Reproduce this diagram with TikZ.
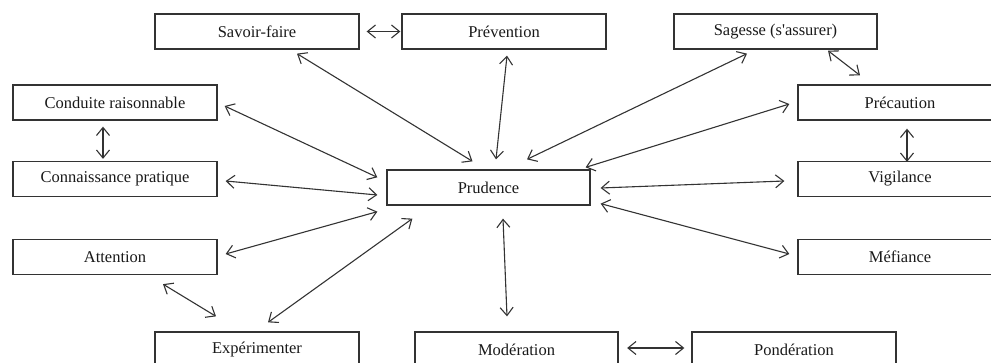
\documentclass[tikz,border=0pt]{standalone}
\usepackage{fontspec}
\setmainfont{Liberation Serif}
\newfontfamily\boxfont{Liberation Serif}
\usetikzlibrary{arrows.meta}

\begin{document}
\begin{tikzpicture}[x=1pt,y=-1pt,
		box/.style={draw=black!80, line width=1.3pt, minimum width=204pt, minimum height=35pt, inner sep=0pt, text=black!90, font=\boxfont\fontsize{16.5}{19}\selectfont},
		link/.style={draw=black!80, line width=1.1pt, {Straight Barb[length=8pt,width=13pt]}-{Straight Barb[length=8pt,width=13pt]}}]
		\useasboundingbox (0,0) rectangle (991,363);
		\clip (0,0) rectangle (991,363);
		% Draw boxes
		\node [box] (sf) at (257,31.5) {Savoir-faire};
		\node [box] (prev) at (504,31.5) {Prévention};
		\node [box, minimum width=203pt] (sag) at (775.5,31.5) {Sagesse (s\textquotesingle assurer)};
		\node [box] (cond) at (115,102.5) {Conduite raisonnable};
		\node [box] (conn) at (115,179) {Connaissance pratique};
		\node [box] (att) at (115,257) {Attention};
		\node [box, minimum width=203pt] (pru) at (488.5,187.5) {Prudence};
		\node [box] (prec) at (900,102.5) {Précaution};
		\node [box] (vig) at (900,179) {Vigilance};
		\node [box] (mef) at (900,257) {Méfiance};
		\node [box] (exp) at (257,349.5) {Expérimenter};
		\node [box, minimum width=203pt] (mod) at (516.5,349.5) {Modération};
		\node [box] (pon) at (794,349.5) {Pondération};
		% Draw links on top
		\draw [link] ([xshift=7pt]sf.east) -- ([xshift=-1pt]prev.west);
		\draw [link] ([xshift=40pt,yshift=-4pt]sf.south) -- ([xshift=-16pt,yshift=8pt]pru.north);
		\draw [link] ([xshift=3pt,yshift=-6pt]prev.south) -- ([xshift=7.5pt,yshift=10pt]pru.north);
		\draw [link] ([xshift=-28.5pt,yshift=-4pt]sag.south) -- ([xshift=38.5pt,yshift=10pt]pru.north);
		\draw [link] ([xshift=52.5pt,yshift=-1pt]sag.south) -- ([xshift=-40pt,yshift=9pt]prec.north);
		% Draw links on the right
		\draw [link] ([xshift=-8pt,yshift=-1.5pt]prec.west) -- ([xshift=-5pt,yshift=2pt]pru.north east);
		\draw [link] ([xshift=7pt,yshift=-8pt]prec.south) -- ([xshift=7pt,yshift=-1pt]vig.north);
		\draw [link] ([xshift=10pt,yshift=-0.5pt]pru.east) -- ([xshift=-13pt,yshift=-2pt]vig.west);
		\draw [link] ([xshift=10pt,yshift=2pt]pru.south east) -- ([xshift=-8pt,yshift=3pt]mef.west);
		% Draw links at the bottom
		\draw [link] ([xshift=14.5pt,yshift=-13pt]pru.south) -- ([xshift=-9.5pt,yshift=15pt]mod.north);
		\draw [link] ([xshift=8.5pt,yshift=1.5pt]mod.east) -- ([xshift=-7pt,yshift=1.5pt]pon.west);
		% Draw links on the left
		\draw [link] ([xshift=7pt,yshift=-3.5pt]cond.east) -- ([xshift=-9pt,yshift=-8pt]pru.north west);
		\draw [link] ([xshift=-12pt,yshift=-6pt]cond.south) -- ([xshift=-12pt,yshift=2pt]conn.north);
		\draw [link] ([xshift=8pt,yshift=-2pt]conn.east) -- ([xshift=-9pt,yshift=-7.5pt]pru.west);
		\draw [link] ([xshift=8pt,yshift=3pt]att.east) -- ([xshift=-9pt,yshift=-6pt]pru.south west);
		\draw [link] ([xshift=48pt,yshift=-9pt]att.south) -- ([xshift=-41pt,yshift=15pt]exp.north);
		\draw [link] ([xshift=11pt,yshift=9pt]exp.north) -- ([xshift=26pt,yshift=-13pt]pru.south west);
	\end{tikzpicture}
\end{document}
